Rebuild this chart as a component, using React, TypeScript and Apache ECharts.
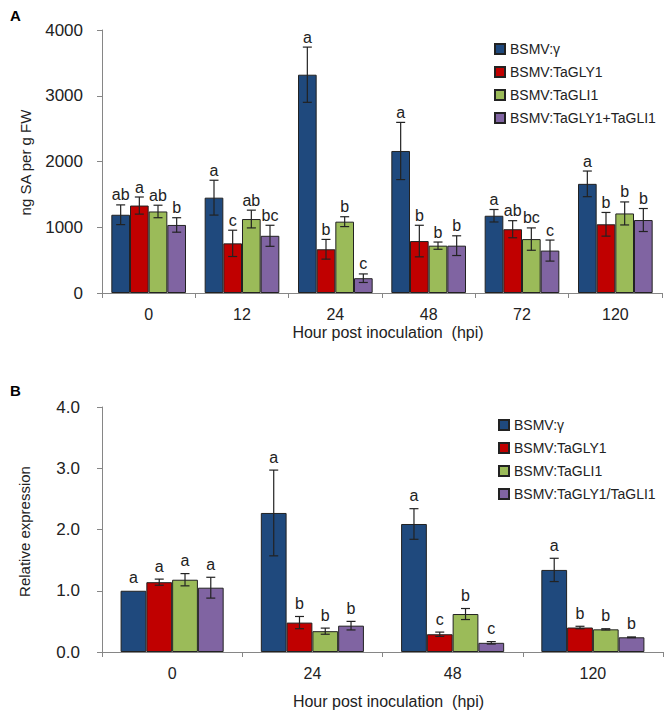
import React, { useEffect, useRef } from "react";
import * as echarts from "echarts";

// ---------- Panel A data ----------
const catsA = ["0", "12", "24", "48", "72", "120"];
const namesA = ["BSMV:γ", "BSMV:TaGLY1", "BSMV:TaGLI1", "BSMV:TaGLY1+TaGLI1"];
const gammaA = [1190, 1450, 3320, 2160, 1175, 1660];
const gly1A = [1330, 755, 665, 790, 970, 1045];
const gli1A = [1240, 1125, 1085, 720, 820, 1210];
const bothA = [1035, 870, 225, 720, 645, 1110];
const gammaAErr = [150, 265, 420, 435, 95, 195];
const gly1AErr = [130, 200, 150, 240, 130, 180];
const gli1AErr = [95, 135, 75, 55, 170, 175];
const bothAErr = [110, 160, 65, 150, 160, 175];
const gammaALet = ["ab", "a", "a", "a", "a", "a"];
const gly1ALet = ["a", "c", "b", "b", "ab", "b"];
const gli1ALet = ["ab", "ab", "b", "b", "bc", "b"];
const bothALet = ["b", "bc", "c", "b", "c", "b"];
const ticksA = [0, 1000, 2000, 3000, 4000];

// ---------- Panel B data ----------
const catsB = ["0", "24", "48", "120"];
const namesB = ["BSMV:γ", "BSMV:TaGLY1", "BSMV:TaGLI1", "BSMV:TaGLY1/TaGLI1"];
const gammaB = [1.0, 2.27, 2.09, 1.34];
const gly1B = [1.14, 0.48, 0.29, 0.4];
const gli1B = [1.18, 0.34, 0.62, 0.37];
const bothB = [1.05, 0.43, 0.15, 0.24];
const gammaBErr = [0, 0.7, 0.25, 0.19];
const gly1BErr = [0.05, 0.1, 0.035, 0.02];
const gli1BErr = [0.1, 0.05, 0.09, 0.01];
const bothBErr = [0.17, 0.07, 0.02, 0.006];
const gammaBLet = ["a", "a", "a", "a"];
const gly1BLet = ["a", "b", "c", "b"];
const gli1BLet = ["a", "b", "b", "b"];
const bothBLet = ["a", "b", "c", "b"];
const ticksB = [0, 1, 2, 3, 4];

const xTitle = "Hour post inoculation  (hpi)";
const yTitleA = "ng SA per g FW";
const yTitleB = "Relative expression";

const colors = ["#1F497D", "#C00000", "#9BBB59", "#8064A2"];
const FONT = "Liberation Sans, Arial, sans-serif";
const AXIS_COLOR = "#868686";
const TEXT_COLOR = "#222";

function errSeries(
  axisIdx: number,
  sIdx: number,
  nS: number,
  gapFrac: number,
  values: number[],
  errs: number[],
  letters: string[],
  labelLift: number
) {
  return {
    type: "custom",
    name: "err" + axisIdx + "_" + sIdx,
    xAxisIndex: axisIdx,
    yAxisIndex: axisIdx,
    coordinateSystem: "cartesian2d",
    silent: true,
    z: 5,
    encode: { x: 0, y: 1 },
    data: values.map((v, i) => [i, v, errs[i]]),
    renderItem: (params: any, api: any) => {
      const ci = api.value(0);
      const v = api.value(1);
      const e = api.value(2);
      const center = api.coord([ci, v]);
      const band = api.size([1, 0])[0];
      const bw = (band * (1 - gapFrac)) / nS;
      const x = center[0] + (sIdx - (nS - 1) / 2) * bw;
      const top = api.coord([ci, v + e])[1];
      const bot = api.coord([ci, v - e])[1];
      const cap = 4.5;
      const ls = { stroke: "#222", lineWidth: 1.2 };
      const children: any[] = [];
      if (e > 0) {
        children.push(
          { type: "line", shape: { x1: x, y1: top, x2: x, y2: bot }, style: ls },
          { type: "line", shape: { x1: x - cap, y1: top, x2: x + cap, y2: top }, style: ls },
          { type: "line", shape: { x1: x - cap, y1: bot, x2: x + cap, y2: bot }, style: ls }
        );
      }
      children.push({
        type: "text",
        style: {
          text: letters[params.dataIndex],
          x: x,
          y: top - labelLift,
          align: "center",
          verticalAlign: "bottom",
          fontSize: 16,
          fontFamily: FONT,
          fill: TEXT_COLOR,
        },
      });
      return { type: "group", children };
    },
  };
}

export default function App() {
  const ref = useRef<HTMLDivElement>(null);
  useEffect(() => {
    if (!ref.current) return;
    const chart = echarts.init(ref.current, null, { renderer: "svg" });
    const gapA = 0.2;
    const gapB = 0.265;
    const valsA = [gammaA, gly1A, gli1A, bothA];
    const errsA = [gammaAErr, gly1AErr, gli1AErr, bothAErr];
    const letsA = [gammaALet, gly1ALet, gli1ALet, bothALet];
    const valsB = [gammaB, gly1B, gli1B, bothB];
    const errsB = [gammaBErr, gly1BErr, gli1BErr, bothBErr];
    const letsB = [gammaBLet, gly1BLet, gli1BLet, bothBLet];

    const gridA = { left: 102, top: 30, right: 10, height: 263 };
    const gridB = { left: 102, top: 407, right: 9, height: 245 };

    const barStyle = (c: string) => ({ color: c, borderColor: "#222", borderWidth: 1 });

    const series: any[] = [];
    valsA.forEach((vals, i) => {
      series.push({
        type: "bar",
        name: namesA[i],
        xAxisIndex: 0,
        yAxisIndex: 0,
        data: vals,
        barGap: "0%",
        barCategoryGap: gapA * 100 + "%",
        itemStyle: barStyle(colors[i]),
      });
    });
    valsB.forEach((vals, i) => {
      series.push({
        type: "bar",
        name: namesB[i],
        xAxisIndex: 1,
        yAxisIndex: 1,
        data: vals,
        barGap: "0%",
        barCategoryGap: gapB * 100 + "%",
        itemStyle: barStyle(colors[i]),
      });
    });
    valsA.forEach((vals, i) => {
      series.push(errSeries(0, i, 4, gapA, vals, errsA[i], letsA[i], 2));
    });
    valsB.forEach((vals, i) => {
      series.push(errSeries(1, i, 4, gapB, vals, errsB[i], letsB[i], 5));
    });

    const catAxis = (idx: number, cats: string[], margin: number, nameGap: number) => ({
      type: "category",
      gridIndex: idx,
      data: cats,
      name: xTitle,
      nameLocation: "middle",
      nameGap,
      nameTextStyle: { fontSize: 16, fontFamily: FONT, color: TEXT_COLOR, padding: [0, 0, 0, 12] },
      axisLine: { show: true, lineStyle: { color: AXIS_COLOR, width: 1 } },
      axisTick: { show: true, length: 5, lineStyle: { color: AXIS_COLOR } },
      axisLabel: { fontSize: 16, fontFamily: FONT, color: TEXT_COLOR, margin },
      splitLine: { show: false },
    });
    const valAxis = (
      idx: number,
      max: number,
      interval: number,
      margin: number,
      fmt: (v: number) => string
    ) => ({
      type: "value",
      gridIndex: idx,
      min: 0,
      max,
      interval,
      axisLine: { show: true, lineStyle: { color: AXIS_COLOR, width: 1 } },
      axisTick: { show: true, length: 5, lineStyle: { color: AXIS_COLOR } },
      axisLabel: { fontSize: 17, fontFamily: FONT, color: TEXT_COLOR, margin, formatter: fmt },
      splitLine: { show: false },
    });

    const legendCommon = {
      orient: "vertical",
      icon: "rect",
      itemWidth: 10,
      itemHeight: 10,
      itemGap: 9,
      selectedMode: false,
      textStyle: { fontSize: 14, fontFamily: FONT, color: TEXT_COLOR, lineHeight: 14 },
    };

    const yTitle = (text: string, x: number, y: number) => ({
      type: "text",
      x,
      y,
      rotation: Math.PI / 2,
      style: {
        text,
        align: "center",
        verticalAlign: "middle",
        fontSize: 15,
        fontFamily: FONT,
        fill: TEXT_COLOR,
      },
    });

    chart.setOption({
      animation: false,
      backgroundColor: "#fff",
      grid: [gridA, gridB],
      xAxis: [catAxis(0, catsA, 13, 31), catAxis(1, catsB, 13, 41)],
      yAxis: [
        valAxis(0, ticksA[ticksA.length - 1], ticksA[1] - ticksA[0], 19, (v) => String(v)),
        valAxis(1, ticksB[ticksB.length - 1], ticksB[1] - ticksB[0], 22, (v) => v.toFixed(1)),
      ],
      legend: [
        { ...legendCommon, data: namesA, left: 489, top: 37 },
        { ...legendCommon, data: namesB, left: 493, top: 413 },
      ],
      graphic: [
        {
          type: "text",
          left: 10,
          top: 8,
          style: { text: "A", fontSize: 15, fontWeight: "bold", fontFamily: FONT, fill: "#000" },
        },
        {
          type: "text",
          left: 10,
          top: 383,
          style: { text: "B", fontSize: 15, fontWeight: "bold", fontFamily: FONT, fill: "#000" },
        },
        yTitle(yTitleA, 25, gridA.top + gridA.height / 2 + 1),
        yTitle(yTitleB, 24, gridB.top + gridB.height / 2 + 2),
      ],
      series,
    });
    return () => chart.dispose();
  }, []);
  return (
    <div
      ref={ref}
      style={{ position: "absolute", left: 0, top: 0, width: 672, height: 717, background: "#fff" }}
    />
  );
}
